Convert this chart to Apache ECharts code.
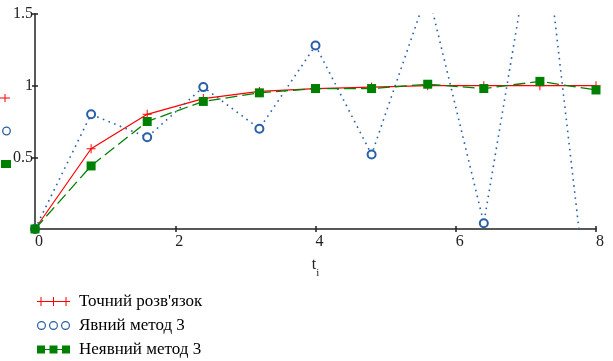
<!DOCTYPE html>
<html>
<head>
<meta charset="utf-8">
<script src="https://cdn.jsdelivr.net/npm/echarts@6/dist/echarts.min.js"></script>
<style>html,body{margin:0;padding:0;background:#fff}#c{width:613px;height:361px}</style>
</head>
<body>
<div id="c"></div>
<script>
// ---- data ----
const tValues = [0, 0.8, 1.6, 2.4, 3.2, 4.0, 4.8, 5.6, 6.4, 7.2, 8.0];
const exactValues = [0, 0.56, 0.80, 0.91, 0.96, 0.98, 0.99, 1.00, 1.00, 1.00, 1.00];
const explicitValues = [0, 0.80, 0.64, 0.99, 0.70, 1.28, 0.52, 1.66, 0.04, 2.37, -1.04];
const implicitValues = [0, 0.44, 0.75, 0.89, 0.95, 0.98, 0.98, 1.01, 0.98, 1.03, 0.97];
const seriesNames = ["Точний розв'язок", "Явний метод 3", "Неявний метод 3"];
const xTicks = [0, 2, 4, 6, 8];
const yTicks = [0.5, 1, 1.5];

const RED = '#ff0000', BLUE = '#2a5fa8', GREEN = '#008000';
const AXIS = '#222';
const FONT = 'Liberation Serif';

function pairs(xs, ys) { return xs.map((x, i) => [x, ys[i]]); }

const plusSym = 'path://M4,0H5V9H4Z M0,4H9V5H0Z';
const legendPlus = 'path://M0,4H33V5H0Z M3.5,0H4.5V9H3.5Z M16,0H17V9H16Z M28.5,0H29.5V9H28.5Z';
function ring(cx) {
  const r1 = 4.5, r2 = 3.3;
  return `M${cx - r1},4.5 A${r1},${r1} 0 1 1 ${cx + r1},4.5 A${r1},${r1} 0 1 1 ${cx - r1},4.5 Z ` +
         `M${cx - r2},4.5 A${r2},${r2} 0 1 0 ${cx + r2},4.5 A${r2},${r2} 0 1 0 ${cx - r2},4.5 Z`;
}
const legendRing = 'path://' + ring(4.5) + ' ' + ring(16.5) + ' ' + ring(28.5);
const legendSquare = 'path://M0,4H33V5H0Z M0,0.5H8V8.5H0Z M12.5,0.5H20.5V8.5H12.5Z M25,0.5H33V8.5H25Z M0,0H0.01V9H0Z';

const GRID = { left: 35, right: 17, top: 14, bottom: 132 };
const xMin = xTicks[0], xMax = xTicks[xTicks.length - 1];
const yMin = 0, yMax = yTicks[yTicks.length - 1];

const chart = echarts.init(document.getElementById('c'), null, { renderer: 'canvas' });
chart.setOption({
  animation: false,
  backgroundColor: '#fff',
  grid: [GRID, Object.assign({}, GRID)],
  legend: {
    orient: 'vertical', left: 37, top: 293, height: 100, padding: 0,
    itemWidth: 33, itemHeight: 9, itemGap: 7,
    textStyle: { fontFamily: FONT, fontSize: 17, color: '#000', padding: [0, 0, 0, 4] },
    data: [
      { name: seriesNames[0], icon: legendPlus, itemStyle: { color: RED, borderWidth: 0 } },
      { name: seriesNames[1], icon: legendRing, itemStyle: { color: BLUE, borderWidth: 0 } },
      { name: seriesNames[2], icon: legendSquare, itemStyle: { color: GREEN, borderWidth: 0 } }
    ],
    selectedMode: false
  },
  xAxis: [{
    gridIndex: 0, type: 'value', min: xMin, max: xMax, interval: 2,
    axisLine: { lineStyle: { color: AXIS, width: 1.5 } },
    axisTick: { length: 3, lineStyle: { color: AXIS, width: 1.5 } },
    splitLine: { show: false },
    axisLabel: { fontFamily: FONT, fontSize: 16, color: AXIS, margin: 5, align: 'left' },
    name: '{a|t}{b|i}', nameLocation: 'middle', nameGap: 28,
    nameTextStyle: { rich: {
      a: { fontFamily: FONT, fontSize: 16, color: AXIS, lineHeight: 22, verticalAlign: 'top' },
      b: { fontFamily: FONT, fontSize: 11, color: AXIS, lineHeight: 22, verticalAlign: 'bottom' }
    } }
  }, {
    gridIndex: 1, type: 'value', min: xMin, max: xMax, interval: 2,
    axisLine: { show: false }, axisLabel: { show: false }, splitLine: { show: false },
    axisTick: { inside: true, length: 3, lineStyle: { color: AXIS, width: 1.5 } }
  }],
  yAxis: [{
    gridIndex: 0, type: 'value', min: yMin, max: yMax, interval: 0.5,
    axisLine: { show: true, lineStyle: { color: AXIS, width: 1.5 } },
    axisTick: { show: true, length: 3, lineStyle: { color: AXIS, width: 1.5 } },
    splitLine: { show: false },
    axisLabel: { fontFamily: FONT, fontSize: 16, color: AXIS, margin: 2, showMinLabel: false, padding: [4, 0, 0, 0] }
  }, {
    gridIndex: 1, type: 'value', min: yMin, max: yMax, interval: 0.5,
    axisLine: { show: false }, axisLabel: { show: false }, splitLine: { show: false },
    axisTick: { show: true, inside: true, length: 3, lineStyle: { color: AXIS, width: 1.5 } }
  }],
  series: [{
    name: seriesNames[0], type: 'line', data: pairs(tValues, exactValues),
    symbol: plusSym, symbolSize: 9, showAllSymbol: true,
    lineStyle: { color: RED, width: 1.2 }, itemStyle: { color: RED, borderWidth: 0 }, z: 2
  }, {
    name: seriesNames[1], type: 'line', data: pairs(tValues, explicitValues),
    symbol: 'emptyCircle', symbolSize: 8, showAllSymbol: true,
    lineStyle: { color: BLUE, width: 1.6, type: [1.6, 4.5] },
    itemStyle: { color: BLUE, borderWidth: 1.3 }, z: 3
  }, {
    name: seriesNames[2], type: 'line', data: pairs(tValues, implicitValues),
    symbol: 'rect', symbolSize: 9, showAllSymbol: true,
    lineStyle: { color: GREEN, width: 1.3, type: [12, 5] },
    itemStyle: { color: GREEN, borderWidth: 0 }, z: 4
  }],
  graphic: [
    { type: 'rect', shape: { x: 0, y: 97.5, width: 10, height: 1 }, style: { fill: RED } },
    { type: 'rect', shape: { x: 4.5, y: 94, width: 1, height: 8 }, style: { fill: RED } },
    { type: 'circle', shape: { cx: 6.5, cy: 131, r: 3.8 }, style: { fill: '#fff', stroke: BLUE, lineWidth: 1.3 } },
    { type: 'rect', shape: { x: 1, y: 160, width: 10, height: 8 }, style: { fill: GREEN } }
  ]
});
</script>
</body>
</html>
